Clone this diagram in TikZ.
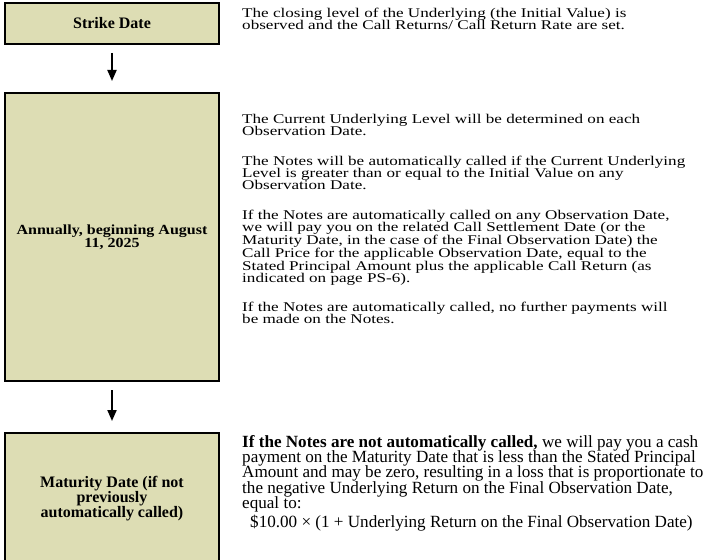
\documentclass[tikz,border=0pt]{standalone}
\usepackage{fontspec}
\usepackage{graphicx}
\setmainfont{Liberation Serif}
\usetikzlibrary{arrows.meta}
\definecolor{boxfill}{RGB}{221,221,180}
\newcommand\mytightlines{\lineskiplimit=-100pt\relax}
\newcommand\squashpar[2]{\scalebox{1}[#1]{\parbox[t]{470pt}{\raggedright #2}}}
\newcommand\squashcenter[2]{\scalebox{1}[#1]{\parbox{206pt}{\centering #2}}}
\begin{document}
\begin{tikzpicture}[x=1pt,y=-1pt,
  stagebox/.style={draw=black, line width=2pt, fill=boxfill, minimum width=214pt,
    align=center, font=\fontsize{16}{15}\selectfont\mytightlines\bfseries, inner sep=4pt},
  desc/.style={anchor=north west, inner sep=0pt, align=left,
    font=\fontsize{17.1}{15.6}\selectfont\mytightlines},
  flowarrow/.style={line width=2pt, -{Triangle[width=9pt,length=11pt]}}]
\useasboundingbox (0,0) rectangle (706,559);
\clip (0,0) rectangle (706,559);
\node[stagebox, minimum height=41pt] (b1) at (112,23.5) {Strike Date};
\node[stagebox, minimum height=288pt] (b2) at (112,237) {\squashcenter{0.87}{Annually, beginning August\\11, 2025}};
\node[stagebox, minimum height=132pt] (b3) at (112,499) {Maturity Date (if not\\previously\\automatically called)};
\draw[flowarrow, shorten <=8pt, shorten >=11pt] (b1.south) -- (b2.north);
\draw[flowarrow, shorten <=8pt, shorten >=11pt] (b2.south) -- (b3.north);
\node[desc] (p1) at (242,8) {\squashpar{0.78}{The closing level of the Underlying (the Initial Value) is\\observed and the Call Returns/ Call Return Rate are set.}};
\node[desc] (p2) at (242,114) {\squashpar{0.78}{The Current Underlying Level will be determined on each\\Observation Date.}};
\node[desc] (p3) at (242,156) {\squashpar{0.78}{The Notes will be automatically called if the Current Underlying\\Level is greater than or equal to the Initial Value on any\\Observation Date.}};
\node[desc] (p4) at (242,210) {\squashpar{0.78}{If the Notes are automatically called on any Observation Date,\\we will pay you on the related Call Settlement Date (or the\\Maturity Date, in the case of the Final Observation Date) the\\Call Price for the applicable Observation Date, equal to the\\Stated Principal Amount plus the applicable Call Return (as\\indicated on page PS-6).}};
\node[desc] (p5) at (242,302) {\squashpar{0.78}{If the Notes are automatically called, no further payments will\\be made on the Notes.}};
\node[desc, font=\fontsize{17.1}{15.3}\selectfont\mytightlines] (p6) at (242,435) {\textbf{If the Notes are not automatically called,} we will pay you a cash\\payment on the Maturity Date that is less than the Stated Principal\\Amount and may be zero, resulting in a loss that is proportionate to\\the negative Underlying Return on the Final Observation Date,\\equal to:};
\node[desc] (p7) at (250,515) {\$10.00 × (1 + Underlying Return on the Final Observation Date)};
\end{tikzpicture}
\end{document}
